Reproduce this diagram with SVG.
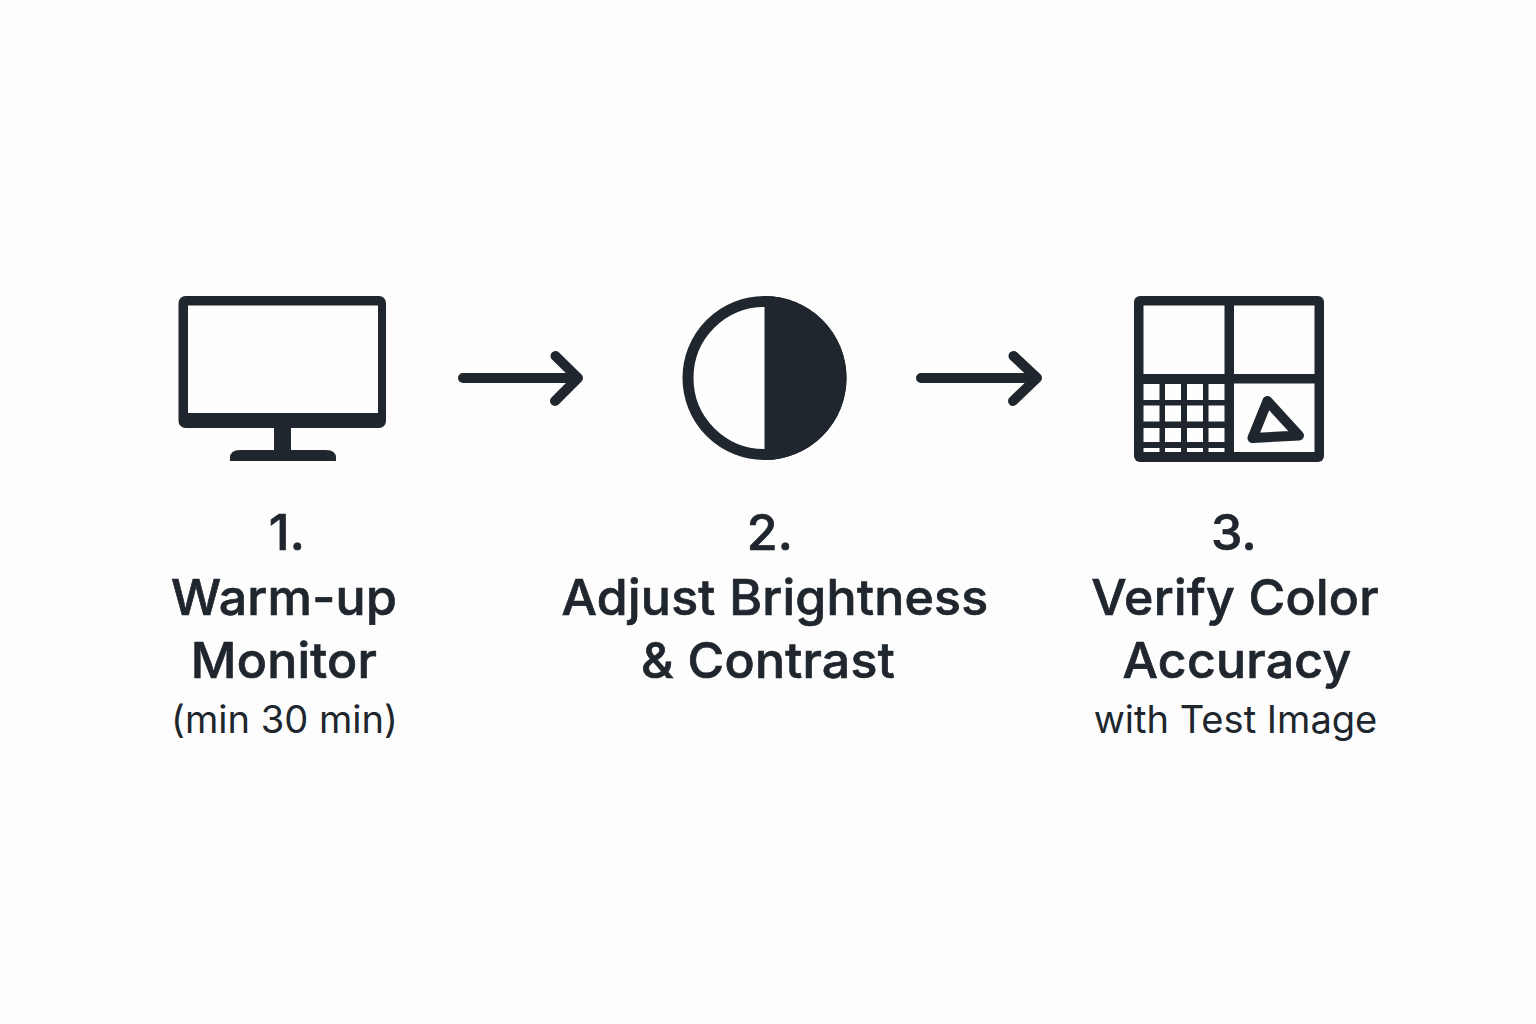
<svg xmlns="http://www.w3.org/2000/svg" width="1536" height="1024" viewBox="0 0 1536 1024">
<style>
.t{font-family:Inter,"Liberation Sans",sans-serif;fill:#20262d;stroke:#20262d;stroke-width:.7px;letter-spacing:.25px;text-anchor:middle;font-weight:500;font-size:50px}
.s{font-size:38.100px;font-weight:400;stroke:none;letter-spacing:0}
.f{fill:#20262d}
.w{fill:#fefefe}
.a{fill:none;stroke:#20262d;stroke-width:10;stroke-linecap:round;stroke-linejoin:round}
</style>
<rect width="1536" height="1024" fill="#fdfdfd"/>
<g id="node1">
<rect class="f" x="178.500" y="296" width="207.500" height="132" rx="7"/>
<rect class="w" x="188" y="305.500" width="190" height="107.500"/>
<rect class="f" x="274" y="426" width="17" height="26"/>
<path class="f" d="M230 461V458Q230 450 240 450H326Q336 450 336 458V461Z"/>
<text class="t" x="287" y="550">1.</text>
<text class="t" x="284" y="615">Warm-up</text>
<text class="t" x="284" y="678">Monitor</text>
<text class="t s" x="284.500" y="733">(min 30 min)</text>
</g>
<g id="node2">
<circle cx="764.500" cy="378" r="76.500" fill="#fefefe" stroke="#20262d" stroke-width="11"/>
<path class="f" d="M764.500 296A82 82 0 0 1 764.500 460Z"/>
<text class="t" x="770" y="550">2.</text>
<text class="t" x="775" y="615">Adjust Brightness</text>
<text class="t" x="768" y="678">&amp; Contrast</text>
</g>
<g id="node3">
<rect class="f" x="1134" y="296" width="190" height="166" rx="6"/>
<rect class="w" x="1143.500" y="305.500" width="81" height="68.500"/>
<rect class="w" x="1234" y="305.500" width="80.500" height="68.500"/>
<rect class="w" x="1234" y="383.500" width="80.500" height="68.500"/>
<g class="w">
<rect x="1143.500" y="384" width="16" height="16"/><rect x="1165" y="384" width="16" height="16"/><rect x="1187" y="384" width="16" height="16"/><rect x="1208.500" y="384" width="16" height="16"/>
<rect x="1143.500" y="405.500" width="16" height="16"/><rect x="1165" y="405.500" width="16" height="16"/><rect x="1187" y="405.500" width="16" height="16"/><rect x="1208.500" y="405.500" width="16" height="16"/>
<rect x="1143.500" y="428" width="16" height="14"/><rect x="1165" y="428" width="16" height="14"/><rect x="1187" y="428" width="16" height="14"/><rect x="1208.500" y="428" width="16" height="14"/>
<rect x="1143.500" y="448" width="16" height="4"/><rect x="1165" y="448" width="16" height="4"/><rect x="1187" y="448" width="16" height="4"/><rect x="1208.500" y="448" width="16" height="4"/>
</g>
<path d="M1267.500 401L1252.500 438L1299 435.500Z" fill="none" stroke="#20262d" stroke-width="10" stroke-linejoin="round"/>
<text class="t" x="1234" y="550">3.</text>
<text class="t" x="1235" y="615">Verify Color</text>
<text class="t" x="1237" y="678">Accuracy</text>
<text class="t s" x="1235.500" y="733">with Test Image</text>
</g>
<g id="connectors">
<path class="a" d="M463 378H577M555.500 356L578 378L555 401"/>
<path class="a" d="M921 378H1035M1013.500 356L1037 378L1013 401"/>
</g>
</svg>
